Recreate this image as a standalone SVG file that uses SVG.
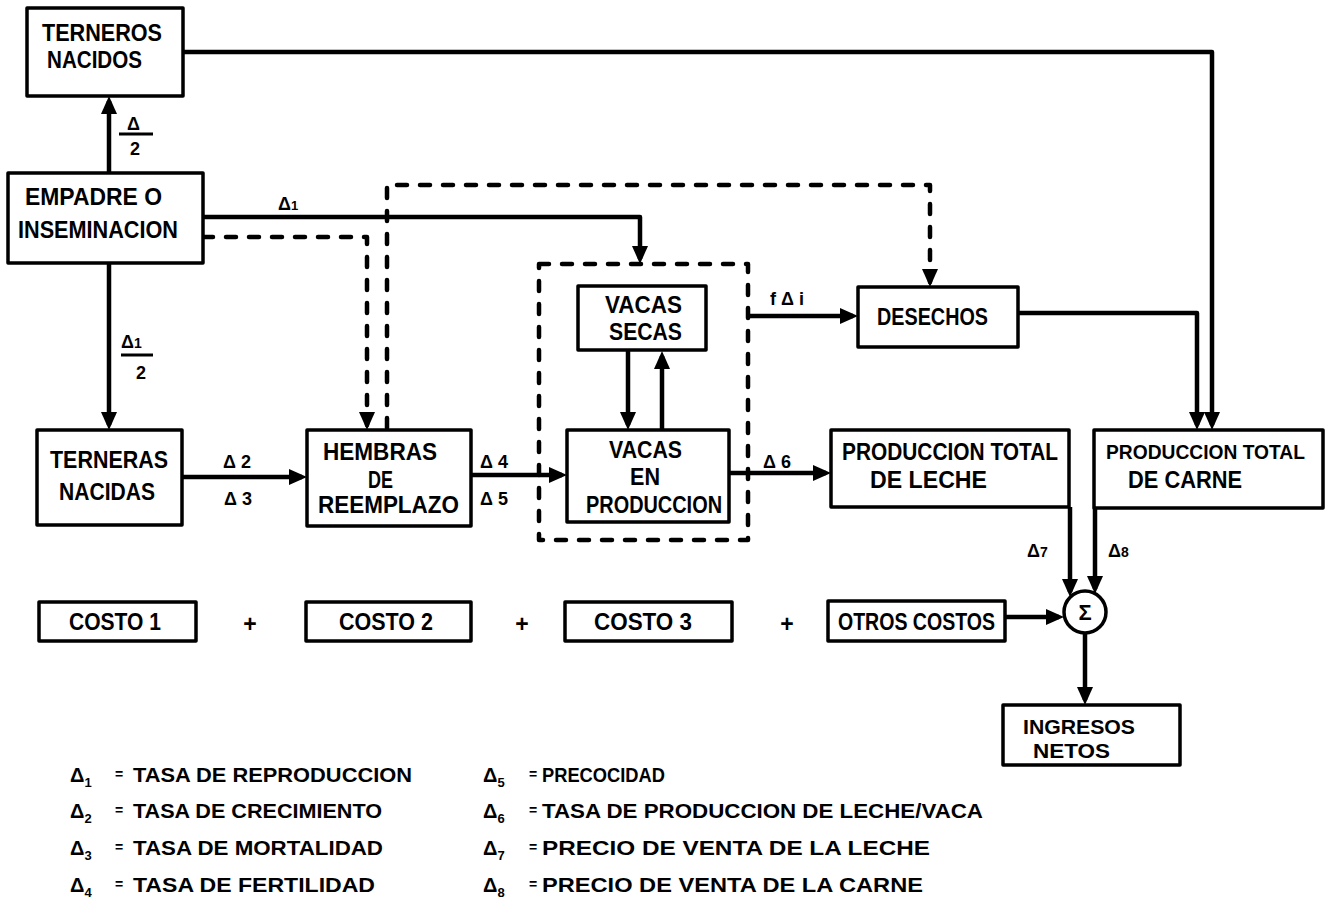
<svg xmlns="http://www.w3.org/2000/svg" width="1330" height="917" viewBox="0 0 1330 917">
<style>
.box{fill:#fff;stroke:#000;stroke-width:3.5;stroke-linejoin:round}
.t{font-family:"Liberation Sans",Arial,sans-serif;font-weight:bold;font-size:23px;fill:#000}
.lb{font-family:"Liberation Sans",Arial,sans-serif;font-weight:bold;font-size:18px;fill:#000}
.lg{font-family:"Liberation Sans",Arial,sans-serif;font-weight:bold;font-size:20px;fill:#000}
.eq{font-family:"Liberation Sans",Arial,sans-serif;font-weight:bold;font-size:14px;fill:#000}
.c{fill:none;stroke:#000;stroke-width:4.5;stroke-linejoin:round}
.d{fill:none;stroke:#000;stroke-width:4.5;stroke-dasharray:10 13;stroke-linecap:round;stroke-linejoin:round}
.frac{stroke:#000;stroke-width:3}
</style>
<defs>
<marker id="ah" viewBox="0 0 18 16" refX="13" refY="8" markerWidth="18" markerHeight="16" markerUnits="userSpaceOnUse" orient="auto">
<path d="M0,0 L18,8 L0,16 z" fill="#000"/>
</marker>
</defs>
<rect width="1330" height="917" fill="#fff"/>

<g id="connectors">
<path class="c" d="M109,173 V101" marker-end="url(#ah)"/>
<path class="c" d="M109,263 V425" marker-end="url(#ah)"/>
<path class="c" d="M203,217 H640 V259" marker-end="url(#ah)"/>
<path class="d" d="M203,237 H367 V425" marker-end="url(#ah)"/>
<path class="d" d="M387,428 V185 H930 V282" marker-end="url(#ah)"/>
<path class="c" d="M182,477 H302" marker-end="url(#ah)"/>
<path class="c" d="M471,475 H562" marker-end="url(#ah)"/>
<path class="c" d="M628,350 V425" marker-end="url(#ah)"/>
<path class="c" d="M662,430 V356" marker-end="url(#ah)"/>
<path class="c" d="M748,316 H853" marker-end="url(#ah)"/>
<path class="c" d="M729,473 H826" marker-end="url(#ah)"/>
<path class="c" d="M183,52 H1212 V425" marker-end="url(#ah)"/>
<path class="c" d="M1018,313 H1197 V425" marker-end="url(#ah)"/>
<path class="c" d="M1070,507 V592" marker-end="url(#ah)"/>
<path class="c" d="M1095,508 V589" marker-end="url(#ah)"/>
<path class="c" d="M1005,617 H1059" marker-end="url(#ah)"/>
<path class="c" d="M1085,633 V700" marker-end="url(#ah)"/>
</g>

<g id="connector-labels">
<g id="lbl-d-2">
<text class="lb" x="127" y="130">Δ</text>
<line class="frac" x1="119" y1="134" x2="153" y2="134"/>
<text class="lb" x="130" y="155">2</text>
</g>
<text class="lb" x="278" y="210">Δ<tspan font-size="13">1</tspan></text>
<g id="lbl-d1-2">
<text class="lb" x="121" y="348">Δ<tspan font-size="14">1</tspan></text>
<line class="frac" x1="121" y1="355" x2="153" y2="355"/>
<text class="lb" x="136" y="379">2</text>
</g>
<text class="lb" x="223" y="468">Δ 2</text>
<text class="lb" x="224" y="505">Δ 3</text>
<text class="lb" x="480" y="468">Δ 4</text>
<text class="lb" x="480" y="505">Δ 5</text>
<text class="lb" x="763" y="468">Δ 6</text>
<text class="lb" x="770" y="305">f Δ i</text>
<text class="lb" x="1027" y="557">Δ<tspan font-size="14">7</tspan></text>
<text class="lb" x="1108" y="557">Δ<tspan font-size="14">8</tspan></text>
</g>

<g id="vacas-boundary">
<rect class="d" x="539" y="264" width="209" height="276"/>
</g>

<g id="terneros-nacidos">
<rect class="box" x="27" y="8" width="156" height="88"/>
<text class="t" x="42" y="41" textLength="120" lengthAdjust="spacingAndGlyphs">TERNEROS</text>
<text class="t" x="47" y="68" textLength="95" lengthAdjust="spacingAndGlyphs">NACIDOS</text>
</g>

<g id="empadre">
<rect class="box" x="8" y="173" width="195" height="90"/>
<text class="t" x="25" y="205" textLength="137" lengthAdjust="spacingAndGlyphs">EMPADRE O</text>
<text class="t" x="18" y="238" textLength="160" lengthAdjust="spacingAndGlyphs">INSEMINACION</text>
</g>

<g id="terneras-nacidas">
<rect class="box" x="37" y="430" width="145" height="95"/>
<text class="t" x="50" y="468" textLength="118" lengthAdjust="spacingAndGlyphs">TERNERAS</text>
<text class="t" x="59" y="500" textLength="96" lengthAdjust="spacingAndGlyphs">NACIDAS</text>
</g>

<g id="hembras">
<rect class="box" x="307" y="430" width="164" height="96"/>
<text class="t" x="323" y="460" textLength="114" lengthAdjust="spacingAndGlyphs">HEMBRAS</text>
<text class="t" x="368" y="488" textLength="25" lengthAdjust="spacingAndGlyphs">DE</text>
<text class="t" x="318" y="513" textLength="141" lengthAdjust="spacingAndGlyphs">REEMPLAZO</text>
</g>

<g id="vacas-secas">
<rect class="box" x="578" y="286" width="128" height="64"/>
<text class="t" x="605" y="313" textLength="77" lengthAdjust="spacingAndGlyphs">VACAS</text>
<text class="t" x="609" y="340" textLength="73" lengthAdjust="spacingAndGlyphs">SECAS</text>
</g>

<g id="vacas-produccion">
<rect class="box" x="567" y="430" width="162" height="92"/>
<text class="t" x="609" y="458" textLength="73" lengthAdjust="spacingAndGlyphs">VACAS</text>
<text class="t" x="630" y="485" textLength="30" lengthAdjust="spacingAndGlyphs">EN</text>
<text class="t" x="586" y="513" textLength="136" lengthAdjust="spacingAndGlyphs">PRODUCCION</text>
</g>

<g id="desechos">
<rect class="box" x="858" y="287" width="160" height="60"/>
<text class="t" x="877" y="325" textLength="111" lengthAdjust="spacingAndGlyphs">DESECHOS</text>
</g>

<g id="produccion-leche">
<rect class="box" x="831" y="430" width="238" height="77"/>
<text class="t" x="842" y="460" textLength="216" lengthAdjust="spacingAndGlyphs">PRODUCCION TOTAL</text>
<text class="t" x="870" y="488" textLength="117" lengthAdjust="spacingAndGlyphs">DE LECHE</text>
</g>

<g id="produccion-carne">
<rect class="box" x="1094" y="430" width="229" height="78"/>
<text class="t" x="1106" y="459" style="font-size:20px" textLength="199" lengthAdjust="spacingAndGlyphs">PRODUCCION TOTAL</text>
<text class="t" x="1128" y="488" textLength="114" lengthAdjust="spacingAndGlyphs">DE CARNE</text>
</g>

<g id="sumador">
<circle cx="1085" cy="612" r="21" fill="#fff" stroke="#000" stroke-width="3.5"/>
<text class="t" x="1085" y="620" text-anchor="middle" style="font-size:22px">Σ</text>
</g>

<g id="ingresos-netos">
<rect class="box" x="1003" y="705" width="177" height="60"/>
<text class="t" x="1023" y="734" style="font-size:21px" textLength="112" lengthAdjust="spacingAndGlyphs">INGRESOS</text>
<text class="t" x="1033" y="758" style="font-size:21px" textLength="77" lengthAdjust="spacingAndGlyphs">NETOS</text>
</g>

<g id="costo-1">
<rect class="box" x="39" y="602" width="157" height="39"/>
<text class="t" x="69" y="630" textLength="92" lengthAdjust="spacingAndGlyphs">COSTO 1</text>
</g>
<text class="t" x="250" y="632" text-anchor="middle">+</text>
<g id="costo-2">
<rect class="box" x="306" y="602" width="165" height="39"/>
<text class="t" x="339" y="630" textLength="94" lengthAdjust="spacingAndGlyphs">COSTO 2</text>
</g>
<text class="t" x="522" y="632" text-anchor="middle">+</text>
<g id="costo-3">
<rect class="box" x="565" y="602" width="167" height="39"/>
<text class="t" x="594" y="630" textLength="98" lengthAdjust="spacingAndGlyphs">COSTO 3</text>
</g>
<text class="t" x="787" y="632" text-anchor="middle">+</text>
<g id="otros-costos">
<rect class="box" x="828" y="601" width="177" height="40"/>
<text class="t" x="838" y="630" textLength="157" lengthAdjust="spacingAndGlyphs">OTROS COSTOS</text>
</g>

<g id="legend">
<text class="lg" x="70" y="782">Δ<tspan font-size="13" dy="5">1</tspan></text>
<text class="eq" x="115" y="779">=</text>
<text class="lg" x="133" y="782" textLength="279" lengthAdjust="spacingAndGlyphs">TASA DE REPRODUCCION</text>
<text class="lg" x="70" y="818">Δ<tspan font-size="13" dy="5">2</tspan></text>
<text class="eq" x="115" y="815">=</text>
<text class="lg" x="133" y="818" textLength="249" lengthAdjust="spacingAndGlyphs">TASA  DE CRECIMIENTO</text>
<text class="lg" x="70" y="855">Δ<tspan font-size="13" dy="5">3</tspan></text>
<text class="eq" x="115" y="852">=</text>
<text class="lg" x="133" y="855" textLength="250" lengthAdjust="spacingAndGlyphs">TASA DE MORTALIDAD</text>
<text class="lg" x="70" y="892">Δ<tspan font-size="13" dy="5">4</tspan></text>
<text class="eq" x="115" y="889">=</text>
<text class="lg" x="133" y="892" textLength="242" lengthAdjust="spacingAndGlyphs">TASA DE FERTILIDAD</text>

<text class="lg" x="483" y="782">Δ<tspan font-size="13" dy="5">5</tspan></text>
<text class="eq" x="529" y="779">=</text>
<text class="lg" x="542" y="782" textLength="123" lengthAdjust="spacingAndGlyphs">PRECOCIDAD</text>
<text class="lg" x="483" y="818">Δ<tspan font-size="13" dy="5">6</tspan></text>
<text class="eq" x="529" y="815">=</text>
<text class="lg" x="542" y="818" textLength="441" lengthAdjust="spacingAndGlyphs">TASA DE PRODUCCION DE LECHE/VACA</text>
<text class="lg" x="483" y="855">Δ<tspan font-size="13" dy="5">7</tspan></text>
<text class="eq" x="529" y="852">=</text>
<text class="lg" x="542" y="855" textLength="388" lengthAdjust="spacingAndGlyphs">PRECIO DE VENTA DE LA LECHE</text>
<text class="lg" x="483" y="892">Δ<tspan font-size="13" dy="5">8</tspan></text>
<text class="eq" x="529" y="889">=</text>
<text class="lg" x="542" y="892" textLength="381" lengthAdjust="spacingAndGlyphs">PRECIO DE VENTA DE LA CARNE</text>
</g>
</svg>
